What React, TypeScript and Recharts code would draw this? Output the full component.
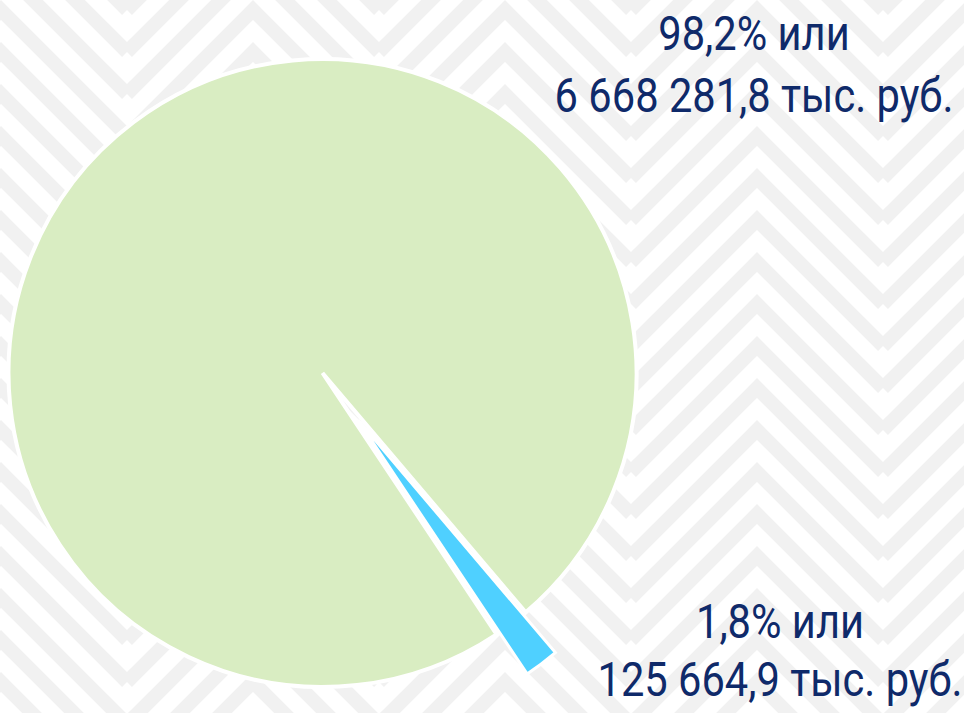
import React from 'react';
import { PieChart, Pie, Cell } from 'recharts';

const categories = ['Малая доля', 'Основная доля'];
const values = [125664.9, 6668281.8];
const colors = ['#4fd0ff', '#d9edc2'];
const unit = 'тыс. руб.';

const total = values.reduce((a, b) => a + b, 0);
const data = categories.map((name, i) => ({ name, value: values[i] }));

const fmtNum = (v: number) => {
  const [int, dec] = v.toFixed(1).split('.');
  const grouped = int.replace(/\B(?=(\d{3})+(?!\d))/g, ' ');
  return `${grouped},${dec}`;
};
const fmtPct = (v: number) => `${((v / total) * 100).toFixed(1).replace('.', ',')}%`;

const W = 964;
const H = 713;
const CX = 322.5;
const CY = 373;
const R = 314;
const START = -49.67;
const END = START - 360;
const EXPLODE = 59;
const SMALL_R = 305;

// explode direction of the small slice, computed from data
const smallSweep = (values[0] / total) * 360;
const mid = ((START - smallSweep / 2) * Math.PI) / 180;
const ECX = CX + EXPLODE * Math.cos(mid);
const ECY = CY - EXPLODE * Math.sin(mid);

const labelPos = [
  { x: 780, y1: 638, y2: 696 },
  { x: 754, y1: 50, y2: 112 },
];

const TEXT_COLOR = '#0f2a6a';
const FONT = 'Roboto, "Noto Sans", sans-serif';
const SQUEEZE = 0.85;

const renderLabel = (props: any) => {
  const { index, value } = props;
  const p = labelPos[index];
  return (
    <g key={`lbl-${index}`} transform={`translate(${p.x},0) scale(${SQUEEZE},1)`}>
      <text textAnchor="middle" fill={TEXT_COLOR} fontFamily={FONT} fontSize={49}>
        <tspan x={0} y={p.y1}>{`${fmtPct(value)} или`}</tspan>
        <tspan x={0} y={p.y2}>{`${fmtNum(value)} ${unit}`}</tspan>
      </text>
    </g>
  );
};

const Background = () => (
  <svg width={W} height={H} style={{ position: 'absolute', left: 0, top: 0 }}>
    <defs>
      <pattern id="orn" patternUnits="userSpaceOnUse" x={127} y={10} width={252} height={42}>
        {[-4, -3, -2, -1, 0, 1, 2, 3, 4].map((k) => (
          <polyline
            key={k}
            points={`0,${126 + 42 * k} 126,${42 * k} 252,${126 + 42 * k}`}
            fill="none"
            stroke="#f1f1f1"
            strokeWidth={14}
          />
        ))}
      </pattern>
    </defs>
    <rect x={0} y={0} width={W} height={H} fill="#ffffff" />
    <rect x={0} y={0} width={W} height={H} fill="url(#orn)" />
  </svg>
);

export default function App() {
  return (
    <div style={{ position: 'absolute', left: 0, top: 0, width: W, height: H, overflow: 'hidden' }}>
      <Background />
      <div style={{ position: 'absolute', left: 0, top: 0 }}>
        <PieChart width={W} height={H} margin={{ top: 0, right: 0, bottom: 0, left: 0 }}>
          <Pie
            data={data}
            dataKey="value"
            nameKey="name"
            cx={CX}
            cy={CY}
            outerRadius={R}
            startAngle={START}
            endAngle={END}
            isAnimationActive={false}
            labelLine={false}
            label={false}
          >
            {data.map((d, i) => (
              <Cell
                key={`a-${i}`}
                fill={i === 1 ? colors[1] : 'none'}
                stroke={i === 1 ? '#ffffff' : 'none'}
                strokeWidth={4}
              />
            ))}
          </Pie>
          <Pie
            data={data}
            dataKey="value"
            nameKey="name"
            cx={ECX}
            cy={ECY}
            outerRadius={SMALL_R}
            startAngle={START}
            endAngle={END}
            isAnimationActive={false}
            labelLine={false}
            label={renderLabel}
          >
            {data.map((d, i) => (
              <Cell
                key={`b-${i}`}
                fill={i === 0 ? colors[0] : 'none'}
                stroke={i === 0 ? '#ffffff' : 'none'}
                strokeWidth={3}
              />
            ))}
          </Pie>
        </PieChart>
      </div>
    </div>
  );
}
